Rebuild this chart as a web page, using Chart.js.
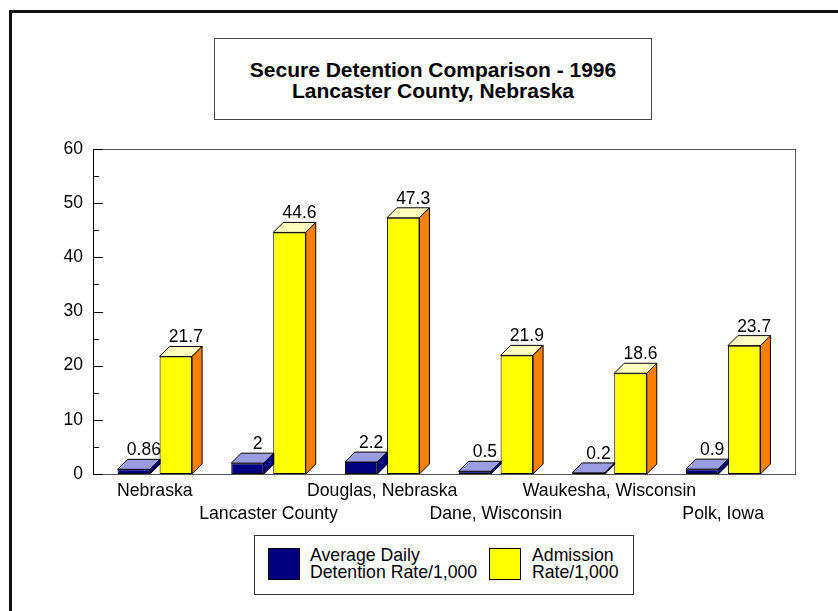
<!DOCTYPE html>
<html>
<head>
<meta charset="utf-8">
<script src="https://cdn.jsdelivr.net/npm/chart.js@4/dist/chart.umd.min.js"></script>
<style>
    html, body { margin: 0; padding: 0; background: #fff; }
    #wrap { position: relative; width: 838px; height: 611px; overflow: hidden; font-family: "Liberation Sans", Arial, sans-serif; color: #000; }
    #frame { position: absolute; left: 9px; top: 10px; width: 900px; height: 700px; border: 3px solid #111; box-sizing: border-box; }
    #chart { position: absolute; left: 0; top: 0; }
    #title { position: absolute; left: 214px; top: 38px; width: 438px; height: 82px; border: 1px solid #444; box-sizing: border-box;
             text-align: center; font-weight: bold; font-size: 21px; line-height: 21px; padding-top: 20px; background: #fff; }
    #legend { position: absolute; left: 254px; top: 535px; width: 380px; height: 60px; border: 1px solid #333; box-sizing: border-box; background: #fff; }
    .swatch { position: absolute; top: 12px; width: 32px; height: 32px; border: 1px solid #000; box-sizing: border-box; }
    .ltext { position: absolute; top: 11px; font-size: 17.7px; line-height: 17px; white-space: nowrap; }
</style>
</head>
<body>
<div id="wrap">
    <div id="frame"></div>
    <canvas id="chart" width="838" height="611"></canvas>
    <div id="title">Secure Detention Comparison - 1996<br>Lancaster County, Nebraska</div>
    <div id="legend">
        <div class="swatch" style="left:13px; background:#000080;"></div>
        <div class="ltext" style="left:55px;">Average Daily<br>Detention Rate/1,000</div>
        <div class="swatch" style="left:234px; background:#ffff00;"></div>
        <div class="ltext" style="left:277px;">Admission<br>Rate/1,000</div>
    </div>
</div>
<script>
const categories = ['Nebraska', 'Lancaster County', 'Douglas, Nebraska', 'Dane, Wisconsin', 'Waukesha, Wisconsin', 'Polk, Iowa'];
const dailyDetention = [0.86, 2, 2.2, 0.5, 0.2, 0.9];
const admissions = [21.7, 44.6, 47.3, 21.9, 18.6, 23.7];
const valueLabels = [
    ['0.86', '2', '2.2', '0.5', '0.2', '0.9'],
    ['21.7', '44.6', '47.3', '21.9', '18.6', '23.7']
];
const yMin = 0, yMax = 60, yStep = 10, yMinorStep = 5;

const FONT = '"Liberation Sans", Arial, sans-serif';
const DEPTH_X = 10, DEPTH_Y = 10;
const faces = [
    { top: '#9c9ce0', side: '#000080' },
    { top: '#ffffc0', side: '#ff8000' }
];

// frame, axis line and inner tick marks
const framePlugin = {
    id: 'frame',
    beforeDatasetsDraw(chart) {
        const ctx = chart.ctx, ca = chart.chartArea, y = chart.scales.y;
        const left = ca.left - 5, right = ca.right + 15;
        ctx.save();
        ctx.lineWidth = 1;
        ctx.strokeStyle = '#555';
        ctx.strokeRect(left + 0.5, ca.top + 0.5, right - left, ca.bottom - ca.top);
        ctx.strokeStyle = '#000';
        ctx.beginPath();
        ctx.moveTo(left + 0.5, ca.top);
        ctx.lineTo(left + 0.5, ca.bottom + 1);
        for (let v = yMin; v <= yMax; v += yMinorStep) {
            const py = Math.round(y.getPixelForValue(v)) + 0.5;
            ctx.moveTo(left, py);
            ctx.lineTo(left + (v % yStep === 0 ? 10 : 6), py);
        }
        ctx.stroke();
        ctx.restore();
    }
};

// top and side faces of each bar, then value labels
const bars3dPlugin = {
    id: 'bars3d',
    afterDatasetsDraw(chart) {
        const ctx = chart.ctx;
        ctx.save();
        ctx.lineWidth = 1;
        ctx.strokeStyle = '#000';
        chart.data.datasets.forEach((ds, di) => {
            const meta = chart.getDatasetMeta(di);
            meta.data.forEach(bar => {
                const l = bar.x - bar.width / 2, r = bar.x + bar.width / 2;
                const t = bar.y, b = bar.base;
                ctx.fillStyle = faces[di].top;
                ctx.beginPath();
                ctx.moveTo(l, t);
                ctx.lineTo(r, t);
                ctx.lineTo(r + DEPTH_X, t - DEPTH_Y);
                ctx.lineTo(l + DEPTH_X, t - DEPTH_Y);
                ctx.closePath();
                ctx.fill();
                ctx.stroke();
                ctx.fillStyle = faces[di].side;
                ctx.beginPath();
                ctx.moveTo(r, t);
                ctx.lineTo(r + DEPTH_X, t - DEPTH_Y);
                ctx.lineTo(r + DEPTH_X, b - DEPTH_Y);
                ctx.lineTo(r, b);
                ctx.closePath();
                ctx.fill();
                ctx.stroke();
            });
        });
        ctx.fillStyle = '#000';
        ctx.font = '17.5px ' + FONT;
        ctx.textAlign = 'center';
        ctx.textBaseline = 'alphabetic';
        chart.data.datasets.forEach((ds, di) => {
            chart.getDatasetMeta(di).data.forEach((bar, i) => {
                ctx.fillText(valueLabels[di][i], bar.x + DEPTH_X, bar.y - DEPTH_Y - 4);
            });
        });
        ctx.restore();
    }
};

new Chart(document.getElementById('chart').getContext('2d'), {
    type: 'bar',
    data: {
        labels: categories.map((c, i) => i % 2 ? ['', c] : c),
        datasets: [{
            label: 'Average Daily Detention Rate/1,000',
            data: dailyDetention,
            backgroundColor: '#000080',
            borderColor: '#000',
            borderWidth: 1,
            borderSkipped: false,
            barPercentage: 0.774,
            categoryPercentage: 0.739
        }, {
            label: 'Admission Rate/1,000',
            data: admissions,
            backgroundColor: '#ffff00',
            borderColor: '#000',
            borderWidth: 1,
            borderSkipped: false,
            barPercentage: 0.774,
            categoryPercentage: 0.739
        }]
    },
    options: {
        responsive: false,
        animation: false,
        layout: { padding: { left: 0, right: 58, top: 149, bottom: 0 } },
        plugins: {
            legend: { display: false },
            tooltip: { enabled: false }
        },
        scales: {
            x: {
                grid: { display: false, drawTicks: false },
                border: { display: false },
                ticks: {
                    color: '#000',
                    font: { family: FONT, size: 17.7, lineHeight: 1.3 },
                    padding: 6,
                    maxRotation: 0,
                    minRotation: 0,
                    autoSkip: false
                },
                afterFit: s => { s.height = 137; }
            },
            y: {
                min: yMin,
                max: yMax,
                grid: { display: false, drawTicks: false },
                border: { display: false },
                ticks: {
                    stepSize: yStep,
                    color: '#000',
                    font: { family: FONT, size: 17.5 },
                    padding: 15
                },
                afterFit: s => { s.width = 98; }
            }
        }
    },
    plugins: [framePlugin, bars3dPlugin]
});
</script>
</body>
</html>
